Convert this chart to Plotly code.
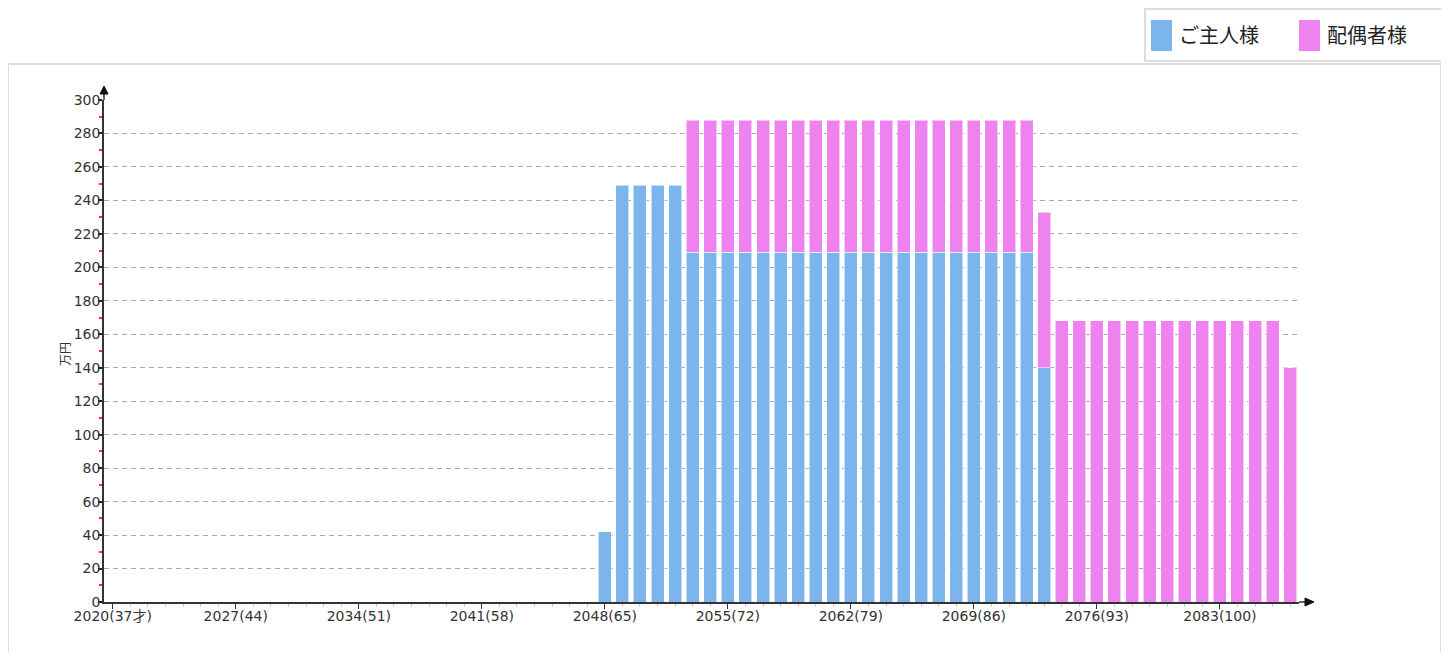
import plotly.graph_objects as go

# ---------------- data ----------------
years = list(range(2020, 2088))
husband = ([None] * 28 + [42] + [249] * 4 + [209] * 20 + [140] + [None] * 14)
spouse = ([None] * 33 + [79] * 20 + [93] + [168] * 13 + [140])
tick_years = [2020, 2027, 2034, 2041, 2048, 2055, 2062, 2069, 2076, 2083]
tick_labels = ["2020(37才)", "2027(44)", "2034(51)", "2041(58)", "2048(65)",
               "2055(72)", "2062(79)", "2069(86)", "2076(93)", "2083(100)"]
series_names = ["ご主人様", "配偶者様"]
colors = ["#7cb5ec", "#ee82ee"]

# ---------------- layout geometry (page has an 8px body margin) ----------------
OFF = 8
W, H = 1433, 644
L, R, T, B = 96, 142, 92, 50
PW, PH = W - L - R, H - T - B


def px(x):
    return (x - OFF - L) / PW


def py(y):
    return (H - B - (y - OFF)) / PH


fig = go.Figure()
for name, vals, col in zip(series_names, [husband, spouse], colors):
    fig.add_trace(go.Bar(
        x=years, y=vals, name=name, width=0.74,
        marker=dict(color=col, line=dict(color="rgba(255,255,255,0.55)", width=1)),
        showlegend=False,
    ))

font_main = "DejaVu Sans, Verdana, Noto Sans CJK JP, sans-serif"
cjk = "Noto Sans CJK JP, sans-serif"

fig.update_layout(
    width=W, height=H, barmode="stack",
    margin=dict(l=L, r=R, t=T, b=B, pad=0),
    paper_bgcolor="white", plot_bgcolor="white",
    font=dict(family=font_main, size=14, color="#333"),
    xaxis=dict(
        range=[2019.5, 2087.5], tickmode="array", tickvals=tick_years, ticktext=tick_labels,
        showgrid=False, zeroline=False, showline=True, linecolor="#333", linewidth=1.5,
        ticks="outside", ticklen=5, tickcolor="#333", tickwidth=1,
        ticklabelstandoff=-5,
        tickfont=dict(family=font_main, size=14, color="#333"),
        minor=dict(dtick=1, tick0=2020, ticks="outside", ticklen=3, tickcolor="#cccccc", tickwidth=1, showgrid=False),
        fixedrange=True,
    ),
    yaxis=dict(
        range=[0, 300], dtick=20, tick0=0,
        showgrid=True, gridcolor="#aaaaaa", gridwidth=1, griddash="5px,4px",
        zeroline=False, showline=True, linecolor="#333", linewidth=1.5,
        ticks="outside", ticklen=4, tickcolor="#222", tickwidth=1.5,
        ticklabelstandoff=-5,
        tickfont=dict(family=font_main, size=14, color="#333"),
        minor=dict(dtick=10, ticks="outside", ticklen=3, tickcolor="#ff3333", tickwidth=1.5, showgrid=False),
        fixedrange=True,
    ),
)

shapes = []
# outer chart frame
shapes.append(dict(type="rect", xref="paper", yref="paper",
                   x0=px(8), x1=px(1441), y0=py(668), y1=py(64),
                   line=dict(color="#dddddd", width=2), fillcolor="rgba(0,0,0,0)", layer="below"))
# legend box
shapes.append(dict(type="rect", xref="paper", yref="paper",
                   x0=px(1145), x1=px(1442), y0=py(61), y1=py(9),
                   line=dict(color="#dddddd", width=2), fillcolor="white"))
# legend swatches
shapes.append(dict(type="rect", xref="paper", yref="paper",
                   x0=px(1151), x1=px(1172), y0=py(51), y1=py(20),
                   line=dict(width=0), fillcolor=colors[0]))
shapes.append(dict(type="rect", xref="paper", yref="paper",
                   x0=px(1299), x1=px(1320), y0=py(51), y1=py(20),
                   line=dict(width=0), fillcolor=colors[1]))
# y axis extension + arrow
shapes.append(dict(type="line", xref="paper", yref="paper",
                   x0=px(104), x1=px(104), y0=py(100), y1=py(93),
                   line=dict(color="#333", width=1.5)))
shapes.append(dict(type="path", xref="paper", yref="paper",
                   path=f"M {px(100)} {py(94)} L {px(108)} {py(94)} L {px(104)} {py(86)} Z",
                   fillcolor="#111", line=dict(color="#111", width=1)))
# x axis extension + arrow
shapes.append(dict(type="line", xref="paper", yref="paper",
                   x0=px(1299), x1=px(1306), y0=py(602), y1=py(602),
                   line=dict(color="#333", width=1.5)))
shapes.append(dict(type="path", xref="paper", yref="paper",
                   path=f"M {px(1305)} {py(598)} L {px(1305)} {py(606)} L {px(1314)} {py(602)} Z",
                   fillcolor="#111", line=dict(color="#111", width=1)))
fig.update_layout(shapes=shapes)

annotations = [
    dict(text=series_names[0], xref="paper", yref="paper", x=px(1177), y=py(35),
         xanchor="left", yanchor="middle", showarrow=False,
         font=dict(family=cjk, size=20, color="#222")),
    dict(text=series_names[1], xref="paper", yref="paper", x=px(1325), y=py(35),
         xanchor="left", yanchor="middle", showarrow=False,
         font=dict(family=cjk, size=20, color="#222")),
    dict(text="万円", xref="paper", yref="paper", x=px(64), y=py(354),
         xanchor="center", yanchor="middle", textangle=-90, showarrow=False,
         font=dict(family=cjk, size=12, color="#333")),
]
fig.update_layout(annotations=annotations)

fig.write_html("out.html")
